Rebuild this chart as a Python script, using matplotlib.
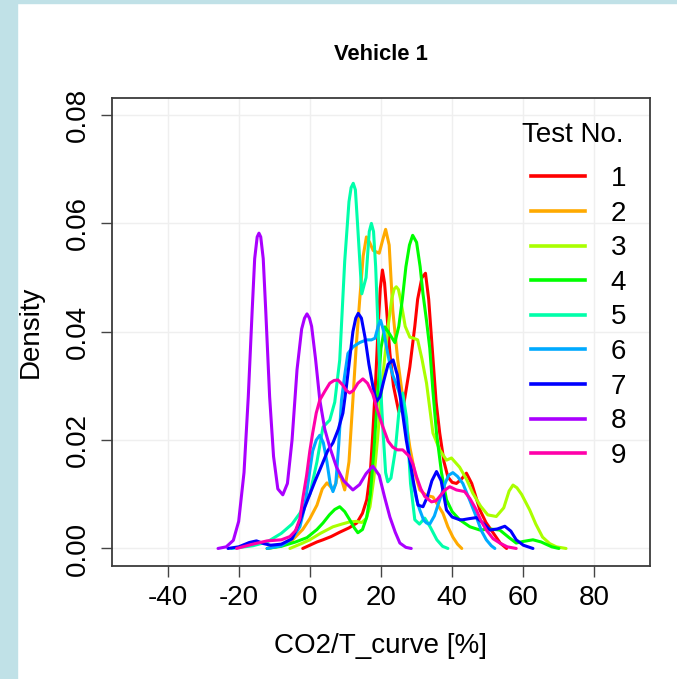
import matplotlib
matplotlib.use('Agg')
import matplotlib.pyplot as plt
from matplotlib.patches import Rectangle
from matplotlib.lines import Line2D

plt.rcParams['font.family'] = ['Liberation Sans', 'DejaVu Sans']
plt.rcParams['axes.unicode_minus'] = False

# density curves, one per test (x in %, density)
x_t1 = [-2, 0, 2, 3.7, 6, 8.4, 11, 13.2, 14.8, 16, 17, 17.7, 18.5, 19.2, 19.8, 20.4, 21, 21.7, 22.5, 23.5,
        25, 26.5, 28.1, 29.5, 30.3, 31.5, 32.5, 33.4, 34.5, 35.5, 36.5, 37.7, 38.8, 40, 41.2, 42.6, 44, 45.5,
        47.8, 49.5, 51.5, 53.5, 55.3]
d_t1 = [0, 0.0006, 0.0012, 0.0016, 0.0022, 0.003, 0.0038, 0.0047, 0.0065, 0.009, 0.014, 0.0213, 0.031, 0.041,
        0.048, 0.0514, 0.049, 0.043, 0.036, 0.030, 0.0252, 0.027, 0.0335, 0.041, 0.046, 0.050, 0.0508, 0.046,
        0.036, 0.027, 0.0213, 0.016, 0.0132, 0.0122, 0.012, 0.0128, 0.0139, 0.012, 0.0071, 0.0048, 0.0029,
        0.001, 0]

x_t2 = [-12, -8, -5, -2, 0, 2, 3.5, 4.8, 5.7, 6.5, 7.3, 7.9, 8.8, 9.8, 11, 12.1, 13, 14, 15, 15.9, 16.8, 17.8,
        19.5, 20.5, 21.3, 22.3, 23.3, 24.7, 26.5, 28.1, 29.5, 30.9, 32.7, 34.6, 36, 37.4, 38.8, 40.2, 41.5, 42.7]
d_t2 = [0, 0.0005, 0.0015, 0.0035, 0.0055, 0.008, 0.011, 0.0121, 0.0115, 0.0108, 0.012, 0.0139, 0.013, 0.0108,
        0.016, 0.0274, 0.037, 0.0458, 0.054, 0.0575, 0.0565, 0.055, 0.0545, 0.057, 0.0589, 0.056, 0.044, 0.0348,
        0.026, 0.0187, 0.014, 0.0108, 0.0098, 0.0095, 0.008, 0.0065, 0.004, 0.0021, 0.0008, 0]

x_t3 = [-5.6, -2, 0, 3, 6.5, 9, 11.2, 13, 14.6, 15.8, 16.9, 18, 19, 20, 21, 22, 23, 23.7, 24.3, 24.9, 25.5,
        26.8, 28.1, 29.2, 30.3, 31.5, 32.8, 34.6, 36.5, 38.4, 39.8, 42.1, 44, 45.8, 48, 50, 52.4, 54.5, 56,
        57.1, 58.2, 59.5, 61.8, 63.5, 65.4, 67.4, 69.3, 72]
d_t3 = [0, 0.001, 0.0016, 0.0028, 0.004, 0.0045, 0.0049, 0.005, 0.0048, 0.0055, 0.0077, 0.013, 0.020, 0.028,
        0.035, 0.041, 0.046, 0.0479, 0.0483, 0.0478, 0.046, 0.041, 0.039, 0.0388, 0.0385, 0.035, 0.0305,
        0.0213, 0.0182, 0.0163, 0.0167, 0.015, 0.0128, 0.0102, 0.0078, 0.0062, 0.0059, 0.0075, 0.0106, 0.0117,
        0.0112, 0.010, 0.0071, 0.0045, 0.0021, 0.0009, 0.0003, 0]

x_t4 = [-12, -8, -4, -0.8, 2, 3.7, 5.5, 7, 8.4, 9.8, 11.2, 12.5, 13.5, 14.8, 16, 17, 18, 19, 20, 21.1, 22.5,
        23.9, 25, 26, 27, 28, 28.9, 30, 31, 31.8, 32.8, 33.7, 34.6, 35.6, 37, 38.4, 40, 42.1, 45, 47.8, 50.5,
        53.4, 56, 58, 60, 62.7, 65, 68, 70]
d_t4 = [0, 0.0004, 0.0012, 0.002, 0.0035, 0.0047, 0.0062, 0.0072, 0.0077, 0.0068, 0.0053, 0.0038, 0.0029,
        0.0035, 0.0058, 0.010, 0.018, 0.028, 0.037, 0.0409, 0.0395, 0.038, 0.041, 0.046, 0.052, 0.056, 0.0578,
        0.0565, 0.052, 0.047, 0.042, 0.037, 0.029, 0.0213, 0.014, 0.009, 0.0068, 0.0053, 0.004, 0.0034, 0.0036,
        0.0034, 0.002, 0.001, 0.0013, 0.0016, 0.0012, 0.0003, 0]

x_t5 = [-22, -16, -12, -8, -5, -2.8, 0, 2, 3.7, 5.6, 7, 8.4, 9.8, 11, 11.6, 12.2, 12.8, 13.4, 14.6, 15.8,
        16.7, 17.3, 17.9, 18.5, 19.5, 20.5, 21.3, 21.9, 22.8, 24, 25, 26.1, 27.2, 28.3, 29.5, 30.8, 32.3, 33.8,
        35.7, 37.3, 38.8]
d_t5 = [0, 0.0005, 0.0012, 0.0028, 0.0045, 0.0065, 0.010, 0.016, 0.0224, 0.0237, 0.027, 0.0348, 0.053, 0.064,
        0.0666, 0.0674, 0.0662, 0.060, 0.047, 0.050, 0.0585, 0.060, 0.0585, 0.052, 0.035, 0.0224, 0.014,
        0.0123, 0.013, 0.018, 0.025, 0.0287, 0.024, 0.012, 0.0053, 0.0045, 0.0056, 0.004, 0.0016, 0.0004, 0]

x_t6 = [-12, -8, -5, -2.8, -1.5, -0.2, 0.8, 1.8, 2.8, 3.8, 4.8, 5.7, 6.5, 7.3, 8.1, 8.9, 9.8, 10.7, 12.1, 14,
        15.9, 17.3, 18.3, 19.2, 19.9, 20.8, 21.6, 22.5, 23.3, 24.5, 25.8, 27.2, 28.1, 29, 30, 30.9, 32, 32.8,
        33.7, 35, 36.5, 38, 39, 40.2, 41.5, 43, 45, 46.8, 48.2, 49.6, 51, 52]
d_t6 = [0, 0.0005, 0.0018, 0.004, 0.0075, 0.0135, 0.018, 0.020, 0.0209, 0.0195, 0.016, 0.012, 0.0105, 0.012,
        0.019, 0.0274, 0.032, 0.036, 0.0372, 0.038, 0.0385, 0.0385, 0.0388, 0.041, 0.0421, 0.040, 0.037, 0.034,
        0.032, 0.030, 0.0274, 0.0213, 0.016, 0.012, 0.009, 0.0071, 0.0052, 0.0047, 0.0045, 0.006, 0.009, 0.012,
        0.0135, 0.014, 0.0133, 0.012, 0.0088, 0.0058, 0.0033, 0.0016, 0.0005, 0]

x_t7 = [-23, -20, -17, -15, -13, -11, -8, -5, -2.8, -1.5, 0, 1.5, 2.8, 5, 6.5, 8, 9.3, 10.3, 11.2, 12.1, 12.9,
        13.6, 14.5, 15.5, 16.6, 17.7, 18.7, 19.7, 20.8, 22, 23.4, 24.6, 25.4, 26.2, 27.1, 28.1, 29.2, 30.4, 31.8,
        33, 34.3, 35.6, 36.9, 38.4, 40, 42.1, 43, 44.8, 46.8, 48.5, 50.6, 52.7, 54.8, 56.5, 58, 60, 62.7]
d_t7 = [0, 0.0003, 0.0011, 0.0014, 0.0009, 0.0006, 0.0008, 0.0018, 0.005, 0.0075, 0.010, 0.0125, 0.0145, 0.018,
        0.0195, 0.022, 0.025, 0.030, 0.035, 0.040, 0.0425, 0.0434, 0.0425, 0.039, 0.034, 0.030, 0.0271, 0.028,
        0.031, 0.034, 0.0348, 0.032, 0.028, 0.0243, 0.020, 0.0163, 0.012, 0.008, 0.0077, 0.0095, 0.0125, 0.0142,
        0.0125, 0.0071, 0.0058, 0.0053, 0.0053, 0.0055, 0.0057, 0.0048, 0.0034, 0.0036, 0.0041, 0.0032, 0.0016,
        0.0006, 0]

x_t8 = [-25.8, -23.5, -21.5, -20, -18.5, -17.3, -16.2, -15.5, -14.8, -14.3, -13.8, -13.1, -12.4, -11.3, -10.2,
        -9, -7.6, -6.3, -5, -3.6, -2.3, -1.5, -0.8, -0.1, 0.5, 1.6, 2.8, 4.2, 5.6, 7.5, 9.5, 12.1, 14, 15.8,
        17.7, 19.5, 21, 22.5, 24, 25.3, 27, 28.5]
d_t8 = [0, 0.0003, 0.0015, 0.005, 0.014, 0.028, 0.044, 0.0535, 0.0575, 0.0582, 0.0575, 0.0535, 0.044, 0.028,
        0.017, 0.011, 0.0099, 0.012, 0.02, 0.033, 0.0405, 0.0425, 0.0433, 0.0425, 0.041, 0.035, 0.0274, 0.022,
        0.0187, 0.015, 0.0125, 0.0108, 0.0118, 0.0138, 0.0152, 0.0135, 0.0095, 0.0058, 0.003, 0.001, 0.0002, 0]

x_t9 = [-20.6, -16, -12, -8, -5.6, -4, -2.8, -1.9, -0.9, 0, 0.8, 1.8, 2.8, 4.2, 5.6, 6.8, 7.9, 9.2, 10.2, 11.2,
        12.3, 13.5, 14.9, 16.2, 17.7, 19, 20.5, 22, 23.3, 24.6, 26.1, 28.1, 29, 30, 31.2, 32.3, 34.2, 35.5, 36.5,
        38, 39.3, 41.2, 43.5, 45, 46.8, 48.2, 49.6, 51.5, 53.4, 55.5, 58]
d_t9 = [0, 0.0008, 0.0014, 0.0016, 0.0022, 0.0033, 0.0055, 0.0095, 0.0135, 0.018, 0.0213, 0.025, 0.0274, 0.029,
        0.0305, 0.031, 0.0311, 0.0302, 0.0292, 0.0287, 0.0292, 0.0305, 0.0313, 0.0305, 0.0285, 0.0255, 0.0225,
        0.0198, 0.0187, 0.0182, 0.0182, 0.0169, 0.0155, 0.0132, 0.011, 0.0096, 0.0086, 0.0088, 0.0096, 0.0108,
        0.0114, 0.0108, 0.0105, 0.0092, 0.0071, 0.005, 0.0034, 0.0018, 0.001, 0.0003, 0]

test_labels = ['1', '2', '3', '4', '5', '6', '7', '8', '9']
x_ticks = [-40, -20, 0, 20, 40, 60, 80]
y_ticks = [0.00, 0.02, 0.04, 0.06, 0.08]
y_tick_labels = ['0.00', '0.02', '0.04', '0.06', '0.08']

curves = [(x_t1, d_t1), (x_t2, d_t2), (x_t3, d_t3), (x_t4, d_t4), (x_t5, d_t5),
          (x_t6, d_t6), (x_t7, d_t7), (x_t8, d_t8), (x_t9, d_t9)]
# R rainbow(9)
colors = ['#FF0000', '#FFAA00', '#AAFF00', '#00FF00', '#00FFAA',
          '#00AAFF', '#0000FF', '#AA00FF', '#FF00AA']

W, H = 677, 679
fig = plt.figure(figsize=(W / 100, H / 100), dpi=100)

# light blue page border on the left and top
fig.patches.append(Rectangle((0, 0), 17 / W, 1, transform=fig.transFigure, color='#c0e1e7', zorder=0))
fig.patches.append(Rectangle((0, 1 - 3 / H), 1, 3 / H, transform=fig.transFigure, color='#c0e1e7', zorder=0))

ax = fig.add_axes([112 / W, 1 - 565.8 / H, 538 / W, 468.1 / H])
ax.set_xlim(-55.6, 95.6)
ax.set_ylim(-0.0032, 0.0832)

for x in x_ticks:
    ax.axvline(x, color='#efefef', lw=1, zorder=0)
for y in y_ticks:
    ax.axhline(y, color='#efefef', lw=1, zorder=0)

handles = []
for (xs, ds), c, lab in zip(curves, colors, test_labels):
    ax.plot(xs, ds, color=c, lw=2.2, solid_joinstyle='round', solid_capstyle='round', zorder=2)
    handles.append(Line2D([0], [0], color=c, lw=2.6))

ax.set_xticks(x_ticks)
ax.set_xticklabels([str(v) for v in x_ticks])
ax.set_yticks(y_ticks)
ax.set_yticklabels(y_tick_labels, rotation=90, va='center')
ax.tick_params(axis='both', labelsize=20, length=8, width=1, color='#444444', direction='out')
ax.tick_params(axis='x', pad=6)
ax.tick_params(axis='y', pad=7)
for s in ax.spines.values():
    s.set_color('#3c3c3c')
    s.set_linewidth(1.3)

# legend entries, title placed on its own to match the wider gap in the original
leg = ax.legend(handles, test_labels, frameon=False, fontsize=20,
                handlelength=1.96, handletextpad=0.9, labelspacing=0.31, borderpad=0, borderaxespad=0,
                loc='upper left', bbox_to_anchor=((531 - 112) / 538, (565.8 - 166) / 468.1))
fig.text(573 / W, 1 - 142 / H, 'Test No.', ha='center', va='baseline', fontsize=20)

fig.text(381 / W, 1 - 60 / H, 'Vehicle 1', ha='center', va='baseline', fontsize=15.8, fontweight='bold')
fig.text(381 / W, 1 - 653 / H, 'CO2/T_curve [%]', ha='center', va='baseline', fontsize=20)
fig.text(31 / W, 1 - 332 / H, 'Density', ha='center', va='center', rotation=90, fontsize=20)

fig.savefig('out.png', dpi=100)
